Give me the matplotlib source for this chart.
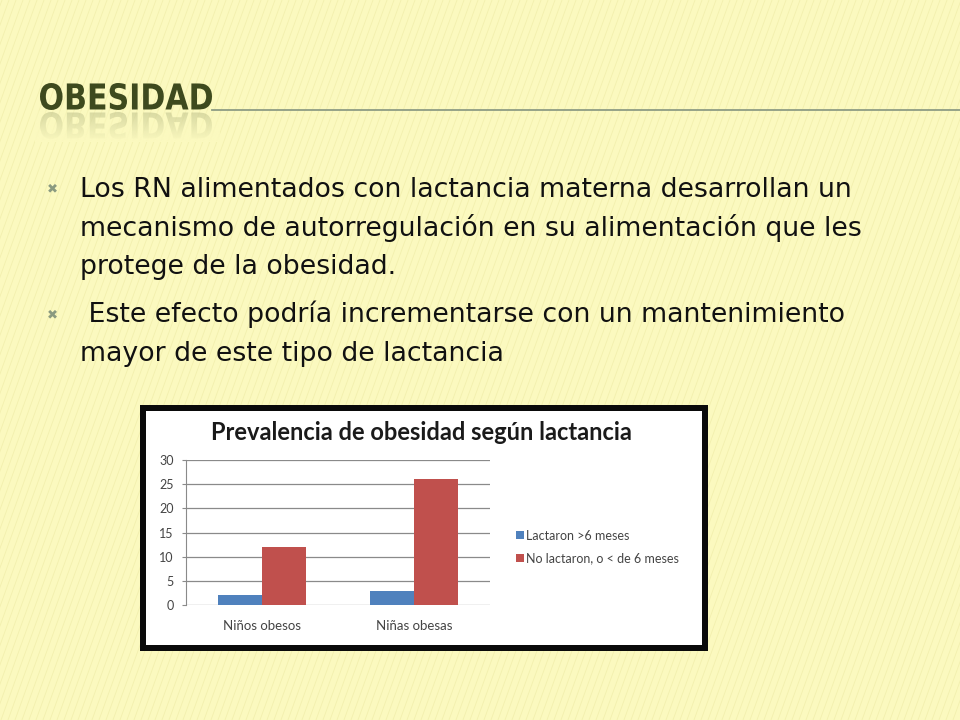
import matplotlib
matplotlib.use("Agg")
from matplotlib import pyplot as plt
from matplotlib.textpath import TextPath
from matplotlib.patches import PathPatch, Rectangle
from matplotlib.font_manager import FontProperties
from matplotlib.transforms import Affine2D
import numpy as np

# datos del grafico
categorias = ["Niños obesos", "Niñas obesas"]
lactaron_mas_6 = [2, 3]
no_lactaron = [12, 26]
series = ["Lactaron >6 meses", "No lactaron, o < de 6 meses"]
yticks = [0, 5, 10, 15, 20, 25, 30]

titulo = "OBESIDAD"
bullets = [
    ["Los RN alimentados con lactancia materna desarrollan un",
     "mecanismo de autorregulación en su alimentación que les",
     "protege de la obesidad."],
    [" Este efecto podría incrementarse con un mantenimiento",
     "mayor de este tipo de lactancia"],
]

fondo = "#fbf9bf"
fig = plt.figure(figsize=(9.6, 7.2), dpi=100, facecolor=fondo)

# ejes de fondo en pixeles
bg = fig.add_axes([0, 0, 1, 1])
bg.axis("off")
bg.set_facecolor(fondo)

# rayas diagonales suaves
for x0 in range(-300, 960, 7):
    bg.plot([x0, x0 + 260], [720, 0], color="#e8e49a", lw=0.6, alpha=0.45, zorder=0)

# titulo con reflejo
fp = FontProperties(family="DejaVu Sans", weight="bold")
tp = TextPath((0, 0), titulo, size=40, prop=fp)
ext = tp.get_extents()
sx = 172 / ext.width
sy = 27 / ext.height
t_main = Affine2D().translate(-ext.x0, -ext.y0).scale(sx, -sy).translate(40, 110) + bg.transData
bg.add_patch(PathPatch(tp, transform=t_main, facecolor="#3e4a1e", edgecolor="none", zorder=3))
t_refl = Affine2D().translate(-ext.x0, -ext.y0).scale(sx, sy).translate(40, 112) + bg.transData
bg.add_patch(PathPatch(tp, transform=t_refl, facecolor="#3e4a1e", edgecolor="none", alpha=0.3, zorder=3))
grad = np.zeros((30, 2, 4))
rgb = matplotlib.colors.to_rgb(fondo)
grad[..., 0], grad[..., 1], grad[..., 2] = rgb
grad[..., 3] = np.linspace(0.4, 1.0, 30)[:, None]
bg.imshow(grad, extent=(35, 220, 142, 111), aspect="auto", zorder=4, interpolation="bilinear")
bg.set_xlim(0, 960)
bg.set_ylim(720, 0)

# linea bajo el titulo
bg.plot([212, 960], [110, 110], color="#8e9c84", lw=1.3, zorder=2)

# vinetas
y = 197
for grupo in bullets:
    bg.text(52, y - 8, "\u2716", fontsize=9.5, color="#8a9a80", ha="center", va="center",
            family="DejaVu Sans", zorder=5)
    for linea in grupo:
        bg.text(80, y, linea, fontsize=19.3, color="#111111", ha="left", va="baseline",
                family="DejaVu Sans", zorder=5)
        y += 38.5
    y += 10

# marco de la imagen del grafico
bg.add_patch(Rectangle((140, 405), 568, 246, facecolor="#0a0a0a", edgecolor="none", zorder=5))
bg.add_patch(Rectangle((146, 411), 556, 234, facecolor="white", edgecolor="none", zorder=6))
bg.text(421, 433, "Prevalencia de obesidad según lactancia", fontsize=17, weight="bold",
        color="#1a1a1a", ha="center", va="center", family="Lato", zorder=7)

# grafico de barras
ax = fig.add_axes([186 / 960, 1 - 605 / 720, 304 / 960, 145 / 720])
ax.set_zorder(10)
ax.patch.set_alpha(0)
x = np.arange(len(categorias))
w = 0.29
ax.bar(x - w / 2, lactaron_mas_6, w, color="#4f81bd", label=series[0], zorder=3)
ax.bar(x + w / 2, no_lactaron, w, color="#c0504d", label=series[1], zorder=3)
ax.set_xlim(-0.5, 1.5)
ax.set_ylim(0, 30)
ax.set_yticks(yticks)
ax.set_yticklabels([str(v) for v in yticks], fontsize=9, color="#444444", family="Lato")
ax.set_xticks(x)
ax.set_xticklabels(categorias, fontsize=9.5, color="#444444", family="Lato")
ax.tick_params(axis="x", length=0, pad=11)
ax.tick_params(axis="y", length=3, color="#8a8a8a", pad=6)
ax.grid(axis="y", color="#8a8a8a", lw=0.9, zorder=0)
for s in ["top", "right", "bottom"]:
    ax.spines[s].set_visible(False)
ax.spines["left"].set_color("#8a8a8a")

leg = ax.legend(loc="center left", bbox_to_anchor=(1.05, 0.4), frameon=False,
                handlelength=0.6, handleheight=0.6, handletextpad=0.15, labelspacing=0.85,
                prop={"family": "Lato", "size": 9})
for t in leg.get_texts():
    t.set_color("#444444")

fig.savefig("out.png", dpi=100, facecolor=fondo)
